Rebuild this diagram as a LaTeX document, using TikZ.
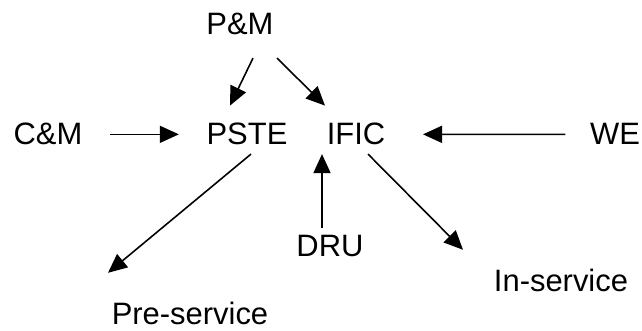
\documentclass[tikz,border=0pt]{standalone}
\usepackage{fontspec}
\setmainfont{Liberation Sans}
\usetikzlibrary{arrows.meta}
\begin{document}
\begin{tikzpicture}[>={Triangle[length=0.38cm, width=0.34cm]}, line width=0.9pt,
  every node/.style={anchor=base, inner sep=0pt, font=\fontsize{17.6}{21}\selectfont}]
\useasboundingbox (0, 0) rectangle (12.84, -6.62);
\node (pm)[] at (4.80, -0.70) {P\&M};
\node (cm)[] at (0.96, -2.90) {C\&M};
\node (pste)[] at (4.94, -2.90) {PSTE};
\node (ific)[] at (7.12, -2.90) {IFIC};
\node (we)[] at (12.30, -2.90) {WE};
\node (dru)[] at (6.60, -5.14) {DRU};
\node (insvc)[] at (11.22, -5.84) {In-service};
\node (presvc)[] at (3.80, -6.50) {Pre-service};
\draw[->] ([xshift=0.26cm, yshift=-0.44cm]pm.south) -- ([xshift=-0.34cm, yshift=0.34cm]pste.north);
\draw[->] ([xshift=0.74cm, yshift=-0.44cm]pm.south) -- ([xshift=-0.62cm, yshift=0.34cm]ific.north);
\draw[->] ([xshift=0.54cm]cm.east) -- ([xshift=-0.54cm]pste.west);
\draw[->] ([xshift=-0.48cm]we.west) -- ([xshift=0.74cm]ific.east);
\draw[->] ([xshift=0.08cm, yshift=-0.16cm]pste.south) -- ([xshift=-1.64cm, yshift=0.58cm]presvc.north);
\draw[->] ([xshift=-0.16cm, yshift=0.14cm]dru.north) -- ([xshift=-0.68cm, yshift=-0.16cm]ific.south);
\draw[->] ([xshift=0.24cm, yshift=-0.16cm]ific.south) -- ([xshift=-1.96cm, yshift=0.38cm]insvc.north);
\end{tikzpicture}
\end{document}
